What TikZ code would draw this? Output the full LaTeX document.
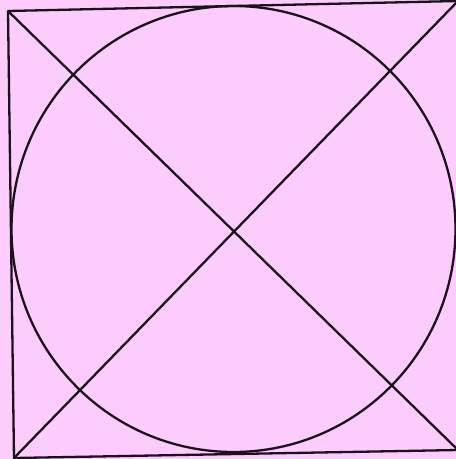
\documentclass[tikz,border=0pt]{standalone}
\definecolor{bgpink}{RGB}{252,204,252}
\definecolor{ink}{RGB}{25,20,25}
\begin{document}
\begin{tikzpicture}[x=1pt,y=-1pt,line width=2.3pt,draw=ink,line join=round]
\fill[bgpink] (0,0) rectangle (456,459);
\useasboundingbox (0,0) rectangle (456,459);
\coordinate (TL) at (8,11);
\coordinate (TR) at (458,1);
\coordinate (BR) at (458,450);
\coordinate (BL) at (14,458);
\draw[ink] (TL) -- (TR) -- (BR) -- (BL) -- cycle;
\draw[ink] (TL) -- (BR);
\draw[ink] (BL) -- (TR);
\draw[ink] (233.5,229) ellipse [x radius=222, y radius=223];
\end{tikzpicture}
\end{document}
